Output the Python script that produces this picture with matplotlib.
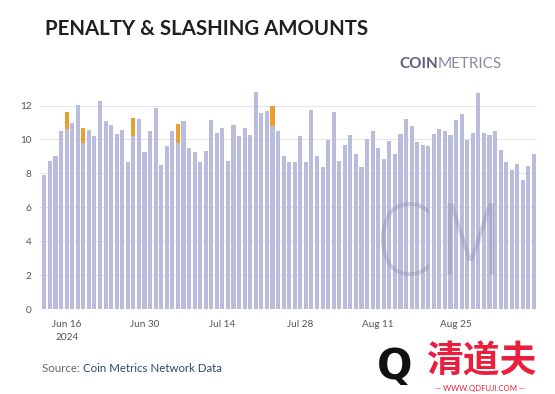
import matplotlib
matplotlib.use("Agg")
import matplotlib.pyplot as plt
from matplotlib.textpath import TextPath
from matplotlib.patches import PathPatch
from matplotlib.font_manager import FontProperties
from matplotlib.transforms import Affine2D, IdentityTransform
import pandas as pd

# ---------------- data ----------------
start_date = "2024-06-12"
penalties = [7.9, 8.75, 9.0, 10.5, 10.6, 11.0, 12.05, 9.8, 10.55, 10.2,
             12.25, 11.1, 10.85, 10.3, 10.55, 8.65, 10.2, 11.2, 9.25, 10.5,
             11.85, 8.5, 9.6, 10.5, 9.8, 11.1, 9.5, 9.25, 8.65, 9.3,
             11.15, 10.4, 10.7, 8.75, 10.85, 10.2, 10.7, 10.25, 12.8, 11.55,
             11.7, 10.8, 10.5, 9.0, 8.7, 8.65, 10.2, 8.7, 11.75, 9.0,
             8.4, 9.95, 11.6, 8.75, 9.7, 10.25, 9.15, 8.35, 10.0, 10.5,
             9.5, 8.85, 9.9, 9.15, 10.35, 11.2, 10.8, 9.85, 9.65, 9.6,
             10.35, 10.6, 10.5, 10.25, 11.15, 11.5, 9.95, 10.4, 12.75, 10.4,
             10.25, 10.5, 9.4, 8.65, 8.2, 8.55, 7.6, 8.45, 9.15]
slashing = [0.0, 0.0, 0.0, 0.0, 1.0, 0.0, 0.0, 0.9, 0.0, 0.0,
            0.0, 0.0, 0.0, 0.0, 0.0, 0.0, 1.05, 0.0, 0.0, 0.0,
            0.0, 0.0, 0.0, 0.0, 1.1, 0.0, 0.0, 0.0, 0.0, 0.0,
            0.0, 0.0, 0.0, 0.0, 0.0, 0.0, 0.0, 0.0, 0.0, 0.0,
            0.0, 1.2, 0.0, 0.0, 0.0, 0.0, 0.0, 0.0, 0.0, 0.0,
            0.0, 0.0, 0.0, 0.0, 0.0, 0.0, 0.0, 0.0, 0.0, 0.0,
            0.0, 0.0, 0.0, 0.0, 0.0, 0.0, 0.0, 0.0, 0.0, 0.0,
            0.0, 0.0, 0.0, 0.0, 0.0, 0.0, 0.0, 0.0, 0.0, 0.0,
            0.0, 0.0, 0.0, 0.0, 0.0, 0.0, 0.0, 0.0, 0.0]
y_ticks = [0, 2, 4, 6, 8, 10, 12]
x_tick_dates = ["2024-06-16", "2024-06-30", "2024-07-14", "2024-07-28",
                "2024-08-11", "2024-08-25"]
x_tick_labels = ["Jun 16\n2024", "Jun 30", "Jul 14", "Jul 28", "Aug 11", "Aug 25"]

dates = pd.date_range(start_date, periods=len(penalties), freq="D")

# ---------------- figure ----------------
plt.rcParams["font.family"] = ["Lato", "DejaVu Sans"]
W, H = 555, 394
fig = plt.figure(figsize=(W / 100, H / 100), dpi=100)
fig.patch.set_facecolor("white")
ax = fig.add_axes([0.072, 0.2157, 0.896, 0.568])

lav = "#b9bcdc"
orange = "#e9a030"
ax.bar(dates, penalties, width=0.74, color=lav, zorder=2)
ax.bar(dates, slashing, bottom=penalties, width=0.74, color=orange, zorder=2)

ax.set_ylim(0, 13.2)
ax.set_xlim(dates[0] - pd.Timedelta(hours=19), dates[-1] + pd.Timedelta(hours=14))
ax.set_yticks(y_ticks)
ax.set_yticklabels([str(v) for v in y_ticks])
ax.set_xticks(pd.to_datetime(x_tick_dates))
ax.set_xticklabels(x_tick_labels)
ax.grid(axis="y", color="#e6e6ea", linewidth=0.8, zorder=0)
for s in ax.spines.values():
    s.set_visible(False)
ax.tick_params(axis="both", length=0, labelsize=7.2, colors="#555555")
ax.tick_params(axis="y", pad=6)
ax.tick_params(axis="x", pad=8)
for lbl in ax.get_xticklabels():
    lbl.set_horizontalalignment("center")
    lbl.set_linespacing(1.6)

# CM watermark in chart, fitted into its box (pixels from top-left)
tp = TextPath((0, 0), "CM", size=100, prop=FontProperties(family="DejaVu Sans", weight="light"))
ext = tp.get_extents()
bx0, bx1, by0, by1 = 381, 494, 202, 276
sx = (bx1 - bx0) / ext.width
sy = (by1 - by0) / ext.height
tr = Affine2D().translate(-ext.x0, -ext.y0).scale(sx, sy).translate(bx0, H - by1)
cm = PathPatch(tr.transform_path(tp), facecolor="#8e8ea8", edgecolor="none",
               alpha=0.38, transform=IdentityTransform(), zorder=5)
fig.add_artist(cm)

# title
fig.text(45 / W, 1 - 29 / H, "PENALTY & SLASHING AMOUNTS", fontsize=14.7,
         fontweight="bold", color="#1f1f1f", ha="left", va="center")

# Coin Metrics logo
t1 = fig.text(399 / W, 1 - 63.5 / H, "COIN", fontsize=11, fontweight="bold",
              color="#5e5e76", ha="left", va="center")
fig.canvas.draw()
bb = t1.get_window_extent()
fig.text(bb.x1 / fig.bbox.width, 1 - 63.5 / H, "METRICS", fontsize=11,
         fontweight="normal", color="#8a8aa0", ha="left", va="center")

# source
t2 = fig.text(42 / W, 1 - 369 / H, "Source: ", fontsize=8.3, color="#666666",
              ha="left", va="center")
fig.canvas.draw()
bb2 = t2.get_window_extent()
fig.text(bb2.x1 / fig.bbox.width, 1 - 369 / H, "Coin Metrics Network Data",
         fontsize=8.3, color="#2c4a6a", ha="left", va="center")

# site watermark
fig.text(395 / W, 1 - 367 / H, "Q", fontsize=30, fontweight="bold",
         color="#111111", ha="center", va="center", family="DejaVu Sans")
fig.text(481 / W, 1 - 362 / H, "清道夫", fontsize=26.5, fontweight="bold",
         color="#ea1f3d", ha="center", va="center",
         family=["Noto Sans CJK SC", "DejaVu Sans"])
fig.text(480 / W, 1 - 388 / H, "— WWW.QDFUJI.COM —", fontsize=5.6,
         color="#ea1f3d", ha="center", va="center")

fig.savefig("out.png", dpi=100)
